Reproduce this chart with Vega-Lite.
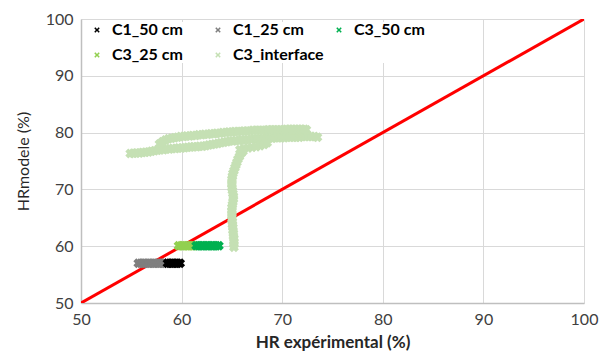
{
  "$schema": "https://vega.github.io/schema/vega-lite/v6.json",
  "width": 503,
  "height": 284,
  "autosize": {"type": "none"},
  "padding": {"left": 81, "top": 19, "right": 25, "bottom": 55},
  "background": "white",
  "config": {
    "view": {"stroke": null},
    "font": "Lato",
    "axis": {
      "grid": true,
      "gridColor": "#D9D9D9",
      "gridWidth": 1,
      "domainColor": "#BFBFBF",
      "domainWidth": 1.5,
      "ticks": false,
      "labelFlush": false,
      "labelFont": "Lato",
      "labelFontSize": 16,
      "labelColor": "#404040",
      "titleFont": "Lato",
      "titleColor": "#262626"
    }
  },
  "layer": [
    {
      "data": {"values": [{"x": 50, "y": 50}, {"x": 100, "y": 100}]},
      "mark": {"type": "line", "color": "#FF0000", "strokeWidth": 3, "clip": true},
      "encoding": {
        "x": {"field": "x", "type": "quantitative", "scale": {"domain": [50, 100]}},
        "y": {"field": "y", "type": "quantitative", "scale": {"domain": [50, 100]}}
      }
    },
    {
      "data": {"values": [
        {"series": "C3_interface", "x": 54.9, "y": 76.3},
        {"series": "C3_interface", "x": 55.2, "y": 76.35},
        {"series": "C3_interface", "x": 55.5, "y": 76.4},
        {"series": "C3_interface", "x": 55.8, "y": 76.4},
        {"series": "C3_interface", "x": 56.1, "y": 76.5},
        {"series": "C3_interface", "x": 56.4, "y": 76.55},
        {"series": "C3_interface", "x": 56.7, "y": 76.6},
        {"series": "C3_interface", "x": 57.0, "y": 76.7},
        {"series": "C3_interface", "x": 57.3, "y": 76.8},
        {"series": "C3_interface", "x": 57.6, "y": 76.9},
        {"series": "C3_interface", "x": 57.9, "y": 77.0},
        {"series": "C3_interface", "x": 58.2, "y": 77.0},
        {"series": "C3_interface", "x": 58.5, "y": 77.1},
        {"series": "C3_interface", "x": 58.8, "y": 77.1},
        {"series": "C3_interface", "x": 59.1, "y": 77.2},
        {"series": "C3_interface", "x": 59.4, "y": 77.2},
        {"series": "C3_interface", "x": 59.7, "y": 77.3},
        {"series": "C3_interface", "x": 60.0, "y": 77.3},
        {"series": "C3_interface", "x": 60.3, "y": 77.35},
        {"series": "C3_interface", "x": 60.6, "y": 77.4},
        {"series": "C3_interface", "x": 60.9, "y": 77.45},
        {"series": "C3_interface", "x": 61.2, "y": 77.5},
        {"series": "C3_interface", "x": 61.5, "y": 77.5},
        {"series": "C3_interface", "x": 61.8, "y": 77.6},
        {"series": "C3_interface", "x": 62.1, "y": 77.6},
        {"series": "C3_interface", "x": 62.4, "y": 77.7},
        {"series": "C3_interface", "x": 62.7, "y": 77.8},
        {"series": "C3_interface", "x": 63.0, "y": 77.9},
        {"series": "C3_interface", "x": 63.3, "y": 78.0},
        {"series": "C3_interface", "x": 63.6, "y": 78.1},
        {"series": "C3_interface", "x": 63.9, "y": 78.2},
        {"series": "C3_interface", "x": 64.2, "y": 78.3},
        {"series": "C3_interface", "x": 64.5, "y": 78.4},
        {"series": "C3_interface", "x": 64.8, "y": 78.5},
        {"series": "C3_interface", "x": 65.1, "y": 78.5},
        {"series": "C3_interface", "x": 65.4, "y": 78.6},
        {"series": "C3_interface", "x": 65.7, "y": 78.6},
        {"series": "C3_interface", "x": 66.0, "y": 78.7},
        {"series": "C3_interface", "x": 66.3, "y": 78.7},
        {"series": "C3_interface", "x": 66.6, "y": 78.8},
        {"series": "C3_interface", "x": 66.9, "y": 78.8},
        {"series": "C3_interface", "x": 67.2, "y": 78.9},
        {"series": "C3_interface", "x": 67.5, "y": 78.9},
        {"series": "C3_interface", "x": 67.8, "y": 78.9},
        {"series": "C3_interface", "x": 68.1, "y": 79.0},
        {"series": "C3_interface", "x": 68.4, "y": 79.0},
        {"series": "C3_interface", "x": 68.7, "y": 79.0},
        {"series": "C3_interface", "x": 69.0, "y": 79.0},
        {"series": "C3_interface", "x": 69.3, "y": 79.1},
        {"series": "C3_interface", "x": 69.6, "y": 79.1},
        {"series": "C3_interface", "x": 69.9, "y": 79.1},
        {"series": "C3_interface", "x": 70.2, "y": 79.1},
        {"series": "C3_interface", "x": 70.5, "y": 79.2},
        {"series": "C3_interface", "x": 70.8, "y": 79.2},
        {"series": "C3_interface", "x": 71.1, "y": 79.2},
        {"series": "C3_interface", "x": 71.4, "y": 79.2},
        {"series": "C3_interface", "x": 71.7, "y": 79.2},
        {"series": "C3_interface", "x": 72.0, "y": 79.3},
        {"series": "C3_interface", "x": 72.3, "y": 79.3},
        {"series": "C3_interface", "x": 72.6, "y": 79.3},
        {"series": "C3_interface", "x": 72.9, "y": 79.3},
        {"series": "C3_interface", "x": 73.2, "y": 79.3},
        {"series": "C3_interface", "x": 73.5, "y": 79.2},
        {"series": "C3_interface", "x": 65.8, "y": 77.0},
        {"series": "C3_interface", "x": 66.2, "y": 77.2},
        {"series": "C3_interface", "x": 66.6, "y": 77.3},
        {"series": "C3_interface", "x": 67.0, "y": 77.4},
        {"series": "C3_interface", "x": 67.4, "y": 77.5},
        {"series": "C3_interface", "x": 67.8, "y": 77.7},
        {"series": "C3_interface", "x": 68.2, "y": 77.9},
        {"series": "C3_interface", "x": 68.5, "y": 78.2},
        {"series": "C3_interface", "x": 57.8, "y": 78.0},
        {"series": "C3_interface", "x": 58.1, "y": 78.4},
        {"series": "C3_interface", "x": 58.4, "y": 78.7},
        {"series": "C3_interface", "x": 58.7, "y": 78.9},
        {"series": "C3_interface", "x": 59.0, "y": 79.0},
        {"series": "C3_interface", "x": 59.3, "y": 79.1},
        {"series": "C3_interface", "x": 59.6, "y": 79.2},
        {"series": "C3_interface", "x": 59.9, "y": 79.3},
        {"series": "C3_interface", "x": 60.2, "y": 79.3},
        {"series": "C3_interface", "x": 60.5, "y": 79.4},
        {"series": "C3_interface", "x": 60.8, "y": 79.4},
        {"series": "C3_interface", "x": 61.1, "y": 79.5},
        {"series": "C3_interface", "x": 61.4, "y": 79.5},
        {"series": "C3_interface", "x": 61.7, "y": 79.6},
        {"series": "C3_interface", "x": 62.0, "y": 79.6},
        {"series": "C3_interface", "x": 62.3, "y": 79.7},
        {"series": "C3_interface", "x": 62.6, "y": 79.7},
        {"series": "C3_interface", "x": 62.9, "y": 79.8},
        {"series": "C3_interface", "x": 63.2, "y": 79.8},
        {"series": "C3_interface", "x": 63.5, "y": 79.9},
        {"series": "C3_interface", "x": 63.8, "y": 79.9},
        {"series": "C3_interface", "x": 64.1, "y": 80.0},
        {"series": "C3_interface", "x": 64.4, "y": 80.0},
        {"series": "C3_interface", "x": 64.7, "y": 80.1},
        {"series": "C3_interface", "x": 65.0, "y": 80.1},
        {"series": "C3_interface", "x": 65.3, "y": 80.2},
        {"series": "C3_interface", "x": 65.6, "y": 80.2},
        {"series": "C3_interface", "x": 65.9, "y": 80.2},
        {"series": "C3_interface", "x": 66.2, "y": 80.3},
        {"series": "C3_interface", "x": 66.5, "y": 80.3},
        {"series": "C3_interface", "x": 66.8, "y": 80.3},
        {"series": "C3_interface", "x": 67.1, "y": 80.4},
        {"series": "C3_interface", "x": 67.4, "y": 80.4},
        {"series": "C3_interface", "x": 67.7, "y": 80.4},
        {"series": "C3_interface", "x": 68.0, "y": 80.4},
        {"series": "C3_interface", "x": 68.3, "y": 80.4},
        {"series": "C3_interface", "x": 68.6, "y": 80.5},
        {"series": "C3_interface", "x": 68.9, "y": 80.5},
        {"series": "C3_interface", "x": 69.2, "y": 80.5},
        {"series": "C3_interface", "x": 69.5, "y": 80.5},
        {"series": "C3_interface", "x": 69.8, "y": 80.5},
        {"series": "C3_interface", "x": 70.1, "y": 80.5},
        {"series": "C3_interface", "x": 70.4, "y": 80.6},
        {"series": "C3_interface", "x": 70.7, "y": 80.6},
        {"series": "C3_interface", "x": 71.0, "y": 80.6},
        {"series": "C3_interface", "x": 71.3, "y": 80.6},
        {"series": "C3_interface", "x": 71.6, "y": 80.6},
        {"series": "C3_interface", "x": 71.9, "y": 80.6},
        {"series": "C3_interface", "x": 72.2, "y": 80.6},
        {"series": "C3_interface", "x": 72.4, "y": 80.5},
        {"series": "C3_interface", "x": 65.2, "y": 59.8},
        {"series": "C3_interface", "x": 65.2, "y": 60.3},
        {"series": "C3_interface", "x": 65.2, "y": 60.8},
        {"series": "C3_interface", "x": 65.2, "y": 61.3},
        {"series": "C3_interface", "x": 65.15, "y": 61.8},
        {"series": "C3_interface", "x": 65.15, "y": 62.3},
        {"series": "C3_interface", "x": 65.1, "y": 62.8},
        {"series": "C3_interface", "x": 65.1, "y": 63.3},
        {"series": "C3_interface", "x": 65.05, "y": 63.8},
        {"series": "C3_interface", "x": 65.05, "y": 64.3},
        {"series": "C3_interface", "x": 65.0, "y": 64.8},
        {"series": "C3_interface", "x": 65.0, "y": 65.3},
        {"series": "C3_interface", "x": 65.0, "y": 65.8},
        {"series": "C3_interface", "x": 65.0, "y": 66.3},
        {"series": "C3_interface", "x": 65.0, "y": 66.8},
        {"series": "C3_interface", "x": 65.05, "y": 67.3},
        {"series": "C3_interface", "x": 65.1, "y": 67.8},
        {"series": "C3_interface", "x": 65.15, "y": 68.3},
        {"series": "C3_interface", "x": 65.15, "y": 68.8},
        {"series": "C3_interface", "x": 65.1, "y": 69.3},
        {"series": "C3_interface", "x": 65.05, "y": 69.8},
        {"series": "C3_interface", "x": 65.0, "y": 70.3},
        {"series": "C3_interface", "x": 65.0, "y": 70.8},
        {"series": "C3_interface", "x": 65.0, "y": 71.3},
        {"series": "C3_interface", "x": 65.0, "y": 71.8},
        {"series": "C3_interface", "x": 65.05, "y": 72.3},
        {"series": "C3_interface", "x": 65.1, "y": 72.8},
        {"series": "C3_interface", "x": 65.2, "y": 73.3},
        {"series": "C3_interface", "x": 65.3, "y": 73.8},
        {"series": "C3_interface", "x": 65.4, "y": 74.3},
        {"series": "C3_interface", "x": 65.5, "y": 74.8},
        {"series": "C3_interface", "x": 65.6, "y": 75.3},
        {"series": "C3_interface", "x": 65.75, "y": 75.8},
        {"series": "C3_interface", "x": 65.9, "y": 76.3},
        {"series": "C3_interface", "x": 66.1, "y": 76.7},
        {"series": "C1_25 cm", "x": 55.7, "y": 57.0},
        {"series": "C1_25 cm", "x": 55.95, "y": 57.0},
        {"series": "C1_25 cm", "x": 56.2, "y": 57.0},
        {"series": "C1_25 cm", "x": 56.45, "y": 57.0},
        {"series": "C1_25 cm", "x": 56.7, "y": 57.0},
        {"series": "C1_25 cm", "x": 56.95, "y": 57.0},
        {"series": "C1_25 cm", "x": 57.2, "y": 57.0},
        {"series": "C1_25 cm", "x": 57.45, "y": 57.0},
        {"series": "C1_25 cm", "x": 57.7, "y": 57.0},
        {"series": "C1_25 cm", "x": 57.95, "y": 57.0},
        {"series": "C1_25 cm", "x": 58.2, "y": 57.0},
        {"series": "C1_25 cm", "x": 58.4, "y": 57.0},
        {"series": "C1_50 cm", "x": 58.6, "y": 57.0},
        {"series": "C1_50 cm", "x": 58.85, "y": 57.0},
        {"series": "C1_50 cm", "x": 59.1, "y": 57.0},
        {"series": "C1_50 cm", "x": 59.35, "y": 57.0},
        {"series": "C1_50 cm", "x": 59.6, "y": 57.0},
        {"series": "C1_50 cm", "x": 59.85, "y": 57.0},
        {"series": "C3_25 cm", "x": 59.7, "y": 60.1},
        {"series": "C3_25 cm", "x": 59.95, "y": 60.1},
        {"series": "C3_25 cm", "x": 60.2, "y": 60.1},
        {"series": "C3_25 cm", "x": 60.45, "y": 60.1},
        {"series": "C3_25 cm", "x": 60.7, "y": 60.1},
        {"series": "C3_25 cm", "x": 60.95, "y": 60.1},
        {"series": "C3_25 cm", "x": 61.2, "y": 60.1},
        {"series": "C3_50 cm", "x": 61.45, "y": 60.1},
        {"series": "C3_50 cm", "x": 61.7, "y": 60.1},
        {"series": "C3_50 cm", "x": 61.95, "y": 60.1},
        {"series": "C3_50 cm", "x": 62.2, "y": 60.1},
        {"series": "C3_50 cm", "x": 62.45, "y": 60.1},
        {"series": "C3_50 cm", "x": 62.7, "y": 60.1},
        {"series": "C3_50 cm", "x": 62.95, "y": 60.1},
        {"series": "C3_50 cm", "x": 63.2, "y": 60.1},
        {"series": "C3_50 cm", "x": 63.45, "y": 60.1},
        {"series": "C3_50 cm", "x": 63.7, "y": 60.1}
      ]},
      "mark": {
        "type": "point",
        "filled": true,
        "opacity": 1,
        "size": 100,
        "shape": "M-1,-0.4L-0.4,-1L0,-0.6L0.4,-1L1,-0.4L0.6,0L1,0.4L0.4,1L0,0.6L-0.4,1L-1,0.4L-0.6,0Z"
      },
      "encoding": {
        "x": {
          "field": "x", "type": "quantitative",
          "scale": {"domain": [50, 100]},
          "axis": {"values": [50, 60, 70, 80, 90, 100], "labelPadding": 8, "title": "HR expérimental (%)", "titleFontSize": 17, "titleFontWeight": "bold", "titlePadding": 7}
        },
        "y": {
          "field": "y", "type": "quantitative",
          "scale": {"domain": [50, 100]},
          "axis": {"values": [50, 60, 70, 80, 90, 100], "labelPadding": 8, "title": "HRmodele (%)", "titleFontSize": 16, "titleFontWeight": "normal", "titlePadding": 14}
        },
        "color": {
          "field": "series", "type": "nominal",
          "scale": {
            "domain": ["C1_50 cm", "C1_25 cm", "C3_50 cm", "C3_25 cm", "C3_interface"],
            "range": ["#000000", "#7F7F7F", "#00B050", "#92D050", "#C5E0B4"]
          },
          "legend": {
            "title": null,
            "orient": "none",
            "legendX": 8,
            "legendY": 3,
            "direction": "horizontal",
            "columns": 3,
            "gridAlign": "all",
            "columnPadding": 7,
            "rowPadding": 9,
            "symbolType": "M-1,-0.6L-0.6,-1L0,-0.4L0.6,-1L1,-0.6L0.4,0L1,0.6L0.6,1L0,0.4L-0.6,1L-1,0.6L-0.4,0Z",
            "symbolSize": 30,
            "symbolOpacity": 1,
            "labelFont": "Lato",
            "labelFontSize": 16,
            "labelFontWeight": "bold",
            "labelColor": "#000000",
            "labelOffset": 7,
            "labelLimit": 200,
            "fillColor": "white"
          }
        }
      }
    }
  ]
}
